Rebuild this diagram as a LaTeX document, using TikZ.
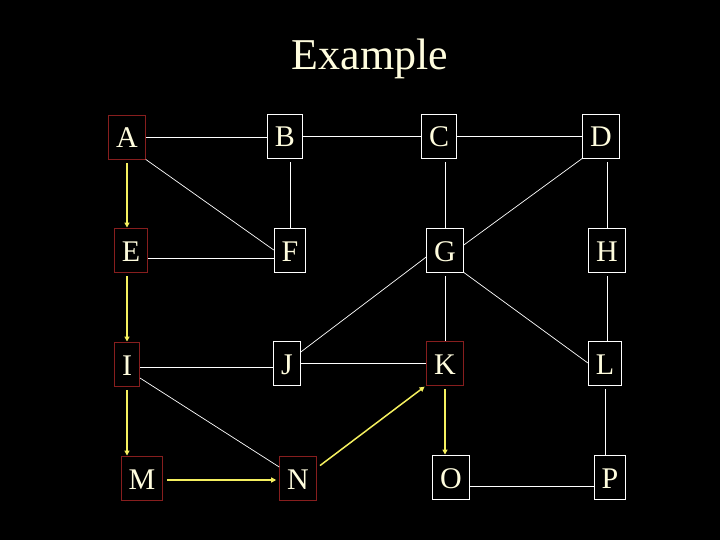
\documentclass[tikz,border=0pt]{standalone}
\usepackage{fontspec}
\setmainfont{Liberation Serif}
\usetikzlibrary{arrows.meta}
\definecolor{slideCream}{RGB}{255,253,222}
\definecolor{slideRed}{RGB}{135,30,30}
\definecolor{slideYellow}{RGB}{245,240,95}

\begin{document}
\begin{tikzpicture}[x=1pt,y=-1pt,
  letter/.style={draw=white,line width=0.9pt,text=slideCream,font=\fontsize{30}{30}\selectfont,inner xsep=7.5pt,inner ysep=0pt,text height=22pt,text depth=-2pt,minimum height=44pt},
  marked/.style={letter,draw=slideRed},
  link/.style={draw=white,line width=0.7pt},
  walk/.style={draw=slideYellow,line width=1.5pt,-{Triangle[length=5pt,width=5pt]},shorten <=4pt}]
\fill[black] (0,0) rectangle (720,540);
\node[text=slideCream,font=\fontsize{44}{44}\selectfont,anchor=base] (title) at (370,70) {Example};

% grid of letters
\node[marked] (A) at (127,137) {A};
\node[letter] (B) at (285,136) {B};
\node[letter] (C) at (439,136) {C};
\node[letter] (D) at (601,136) {D};
\node[marked] (E) at (131,250) {E};
\node[letter] (F) at (290,250) {F};
\node[letter] (G) at (445,250) {G};
\node[letter] (H) at (607,250) {H};
\node[marked] (I) at (127,364) {I};
\node[letter] (J) at (287,363) {J};
\node[marked] (K) at (445,363) {K};
\node[letter] (L) at (605,363) {L};
\node[marked] (M) at (142,478) {M};
\node[marked] (N) at (298,478) {N};
\node[letter] (O) at (451,477) {O};
\node[letter] (P) at (610,477) {P};

% white edges
\draw[link] (A.east) -- (A.east -| B.west);
\draw[link] (B.east) -- (B.east -| C.west);
\draw[link] (C.east) -- (C.east -| D.west);
\draw[link] (A.south east) -- (F.west);
\draw[link,shorten <=4pt] (F.north |- B.south) -- (F.north);
\draw[link,shorten <=4pt] (G.north |- C.south) -- (G.north);
\draw[link,shorten <=4pt] (H.north |- D.south) -- (H.north);
\draw[link] (D.south west) -- ([yshift=5pt]G.east);
\draw[link] ([yshift=-8pt]E.east) -- ([yshift=-8pt]E.east -| F.west);
\draw[link] ([yshift=-7pt]G.west) -- ([yshift=11pt]J.east);
\draw[link] (G.south east) -- (L.west);
\draw[link,shorten <=4pt] (G.south) -- (G.south |- K.north);
\draw[link,shorten <=4pt] (H.south) -- (H.south |- L.north);
\draw[link] ([yshift=-3pt]I.east) -- ([yshift=-3pt]I.east -| J.west);
\draw[link] (J.east) -- (J.east -| K.west);
\draw[link] ([yshift=-14pt]I.east) -- ([yshift=11pt]N.west);
\draw[link,shorten <=4pt] (L.south) -- (L.south |- P.north);
\draw[link] ([yshift=-9pt]O.east) -- ([yshift=-9pt]O.east -| P.west);

% yellow walk
\draw[walk] (A.south) -- (A.south |- E.north);
\draw[walk] (E.south -| A.south) -- (A.south |- I.north);
\draw[walk] (I.south) -- (I.south |- M.north);
\draw[walk,shorten >=3pt] ([yshift=-2pt]M.east) -- ([yshift=-2pt]M.east -| N.west);
\draw[walk,shorten >=2pt] ([yshift=10pt]N.east) -- (K.south west);
\draw[walk] (K.south) -- (K.south |- O.north);
\end{tikzpicture}
\end{document}
